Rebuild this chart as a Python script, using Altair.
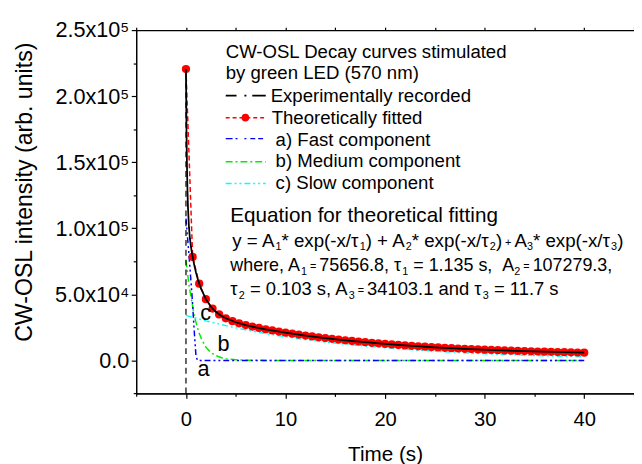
import altair as alt
import pandas as pd

# ---------------- data ----------------
# Theoretically fitted curve (red dots)
t_fit = [0, 0.67, 1.33, 2, 2.67, 3.33, 4, 4.67, 5.33, 6, 6.67, 7.33, 8, 8.67, 9.33,
         10, 10.67, 11.33, 12, 12.67, 13.33, 14, 14.67, 15.33, 16, 16.67, 17.33, 18,
         18.67, 19.33, 20, 20.67, 21.33, 22, 22.67, 23.33, 24, 24.67, 25.33, 26, 26.67,
         27.33, 28, 28.67, 29.33, 30, 30.67, 31.33, 32, 32.67, 33.33, 34, 34.67, 35.33,
         36, 36.67, 37.33, 38, 38.67, 39.33, 40]
fit_vals = [220540, 78330, 58070, 46330, 39270, 34820, 31850, 29720, 28090, 26740,
            25580, 24530, 23570, 22670, 21830, 21020, 20250, 19520, 18820, 18160,
            17520, 16910, 16330, 15770, 15240, 14730, 14240, 13770, 13330, 12900,
            12490, 12100, 11730, 11370, 11030, 10700, 10390, 10090, 9800, 9530,
            9270, 9010, 8780, 8550, 8330, 8120, 7920, 7720, 7540, 7370,
            7200, 7040, 6880, 6740, 6600, 6460, 6330, 6210, 6090, 5980, 5870]

# Experimentally recorded curve (black)
t_exp = [0, 0.05, 0.1, 0.15, 0.2, 0.3, 0.4, 0.5, 0.6, 0.8, 1.0, 1.2, 1.5, 2, 2.5, 3,
         3.5, 4, 5, 6, 7, 8, 10, 12, 14, 16, 18, 20, 22, 25, 28, 31, 34, 37, 40]
exp_vals = [220540, 175900, 147280, 128560, 115960, 100830, 92100, 86020, 81170,
            73270, 66760, 61260, 54530, 46330, 40730, 36800, 33970, 31850, 28860,
            26740, 25040, 23570, 21020, 18820, 16910, 15240, 13770, 12490, 11370,
            9940, 8770, 7820, 7040, 6400, 5870]

# a) fast component (blue)
t_fast = [0, 0.3, 0.6, 0.85, 1.0, 1.15, 40]
fast_vals = [107300, 80000, 50000, 20000, 4000, 0, 0]

# b) medium component (green)
t_med = [0, 0.3, 0.6, 0.8, 1.0, 1.3, 1.6, 2.0, 2.5, 3.0, 3.5, 4.0, 5.0, 6.0, 8, 40]
med_vals = [75700, 57000, 44000, 35000, 29000, 21000, 15500, 10000, 6000, 3600,
            2200, 1300, 500, 150, 0, 0]

# c) slow component (cyan)
t_slow = [0, 2, 4, 6, 8, 10, 12, 14, 16, 18, 20, 22, 24, 26, 28, 30, 32, 34, 36, 38, 40]
slow_vals = [34100, 29900, 26300, 23100, 20300, 17900, 15800, 13900, 12300, 10900,
             9600, 8500, 7500, 6600, 5800, 5100, 4500, 4000, 3500, 3100, 2800]

# vertical dashed trace at t = 0
rule_t = [0]
rule_lo = [-25000]
rule_hi = [220540]

x_major = [0, 10, 20, 30, 40]
x_minor = [-5, 5, 15, 25, 35, 45]
x_top = [-5, 0, 5, 10, 15, 20, 25, 30, 35, 40, 45]
y_major = [0, 50000, 100000, 150000, 200000, 250000]
y_minor = [-25000, 25000, 75000, 125000, 175000, 225000]

# ---------------- layout ----------------
FONT = "Liberation Sans"
PL, PT = 138.3, 26.7          # plot origin in page pixels
W, H = 506, 369.3

xs = alt.Scale(domain=[-5, 45], nice=False, zero=False)
ys = alt.Scale(domain=[-25000, 250000], nice=False, zero=False)

df_fit = pd.DataFrame({"t": t_fit, "v": fit_vals})
df_exp = pd.DataFrame({"t": t_exp, "v": exp_vals})
df_fast = pd.DataFrame({"t": t_fast, "v": fast_vals})
df_med = pd.DataFrame({"t": t_med, "v": med_vals})
df_slow = pd.DataFrame({"t": t_slow, "v": slow_vals})
df_rule = pd.DataFrame({"t": rule_t, "lo": rule_lo, "hi": rule_hi})

common_axis = dict(domainColor="black", tickColor="black", labelColor="black",
                   domainWidth=1.2, tickWidth=1.2, grid=False, labelFont=FONT,
                   titleFont=FONT, titleColor="black", titleFontWeight="normal")

def axis_layer(xaxis, yaxis):
    return alt.Chart(df_slow).mark_line(opacity=0).encode(
        x=alt.X("t:Q", scale=xs, axis=xaxis),
        y=alt.Y("v:Q", scale=ys, axis=yaxis),
    )

ylab = ("datum.value == 0 ? '0.0' : (datum.value < 100000 ? "
        "format(datum.value/10000, '.1f') + 'x10\u2074' : "
        "format(datum.value/100000, '.1f') + 'x10\u2075')")

ax_major = axis_layer(
    alt.Axis(orient="bottom", values=x_major, format="d", tickSize=5,
             labelFontSize=20.5, labelPadding=11.5, title="Time (s)",
             titleFontSize=21, titleBaseline="alphabetic", titleY=68, **common_axis),
    alt.Axis(orient="left", values=y_major, labelExpr=ylab, tickSize=5,
             labelFontSize=22, labelPadding=2.5, title="CW-OSL intensity (arb. units)",
             titleFontSize=23.5, titleAngle=270, titleX=-106.6, titleY=164.3,
             titleBaseline="alphabetic", titleAlign="center", **common_axis),
)
ax_minor = axis_layer(
    alt.Axis(orient="bottom", values=x_minor, labels=False, tickSize=3, title=None,
             **common_axis),
    alt.Axis(orient="left", values=y_minor, labels=False, tickSize=3, title=None,
             **common_axis),
)
ax_top = axis_layer(
    alt.Axis(orient="top", values=x_top, labels=False, tickSize=3, title=None,
             **common_axis),
    None,
)

def curve(df, color, dash=None, width=1.5):
    kw = dict(color=color, strokeWidth=width, clip=True)
    if dash:
        kw["strokeDash"] = dash
    return alt.Chart(df).mark_line(**kw).encode(
        x=alt.X("t:Q", scale=xs, axis=None),
        y=alt.Y("v:Q", scale=ys, axis=None),
    )

slow_line = curve(df_slow, "#00ffff", [6, 3, 2, 3, 2, 3])
med_line = curve(df_med, "#00ee00", [7, 3, 2, 3])
fast_line = curve(df_fast, "#0000ff", [6, 3, 2, 3, 2, 3])
rule0 = alt.Chart(df_rule).mark_rule(color="black", strokeDash=[6, 4], strokeWidth=1.2).encode(
    x=alt.X("t:Q", scale=xs, axis=None),
    y=alt.Y("lo:Q", scale=ys, axis=None),
    y2="hi:Q",
)
fit_line = curve(df_fit, "#ff0000", [5, 3])
fit_pts = alt.Chart(df_fit).mark_point(filled=True, color="#ff0000", size=70, opacity=1).encode(
    x=alt.X("t:Q", scale=xs, axis=None),
    y=alt.Y("v:Q", scale=ys, axis=None),
)
exp_line = curve(df_exp, "black", None, 1.8)

# ---------------- annotations (legend, equation, curve labels) ----------------
text_rows = [
    (229.3, 55.0, "CW-OSL Decay curves stimulated", 18.9),
    (229.3, 76.7, "by green LED (570 nm)", 18.9),
    (275.0, 100.0, "Experimentally recorded", 18.9),
    (276.0, 121.7, "Theoretically fitted", 18.9),
    (280.0, 144.0, "a) Fast component", 18.9),
    (280.0, 165.7, "b) Medium component", 18.9),
    (280.0, 188.3, "c) Slow component", 18.9),
    (234.0, 221.7, "Equation for theoretical fitting", 21),
    (200.7, 378.5, "a", 22),
    (221.0, 352.5, "b", 22),
    (203.5, 321.7, "c", 22),
]

# equation lines: segments of (text, kind); n = normal, s = subscript, m = small symbol
EQ_SUB, SUB_DY = 11.0, 4.0
eq_lines = [
    (236.0, 246.7, 19.0,
     [("y = A", "n"), ("1", "s"), ("* exp(-x/\u03c4", "n"), ("1", "s"),
      (") + A", "n"), ("2", "s"), ("* exp(-x/\u03c4", "n"), ("2", "s"),
      (")", "n"), (" + ", "m"), ("A", "n"), ("3", "s"),
      ("* exp(-x/\u03c4", "n"), ("3", "s"), (")", "n")]),
    (234.0, 271.7, 18.2,
     [("where, A", "n"), ("1", "s"), (" = ", "m"), ("75656.8, \u03c4", "n"),
      ("1", "s"), (" = 1.135 s,", "n"), ("  A", "n"), ("2", "s"), (" = ", "m"),
      ("107279.3,", "n")]),
    (234.0, 296.0, 18.7,
     [("\u03c4", "n"), ("2", "s"), (" = 0.103 s, A", "n"), ("3", "s"),
      (" = ", "m"), ("34103.1 and \u03c4", "n"), ("3", "s"),
      (" = 11.7 s", "n")]),
]
# Arial / Liberation Sans advance widths (em) used to place the segments
ADV = {" ": .278, "(": .333, ")": .333, "*": .389, "+": .584, ",": .278, "-": .333,
       ".": .278, "/": .278, "=": .584, "A": .667, "a": .556, "d": .556, "e": .556,
       "h": .556, "n": .556, "p": .556, "r": .333, "s": .5, "w": .722, "x": .5,
       "y": .5, "\u03c4": .46}
def adv(s):
    return sum(ADV.get(ch, .556) for ch in s)

for x0, yb, main, segs in eq_lines:
    cx = x0
    for txt, kind in segs:
        size = main if kind == "n" else EQ_SUB
        dy = SUB_DY if kind == "s" else (-1.0 if kind == "m" else 0.0)
        lead = len(txt) - len(txt.lstrip(" "))
        text_rows.append((cx + lead * ADV[" "] * size, yb + dy, txt.strip(), size))
        cx += adv(txt) * size

ann = pd.DataFrame(text_rows, columns=["px", "py", "txt", "fs"])
ann["px"] = ann["px"] - PL
ann["py"] = ann["py"] - PT
texts = alt.Chart(ann).mark_text(align="left", baseline="alphabetic", font=FONT,
                                 color="black").encode(
    x=alt.X("px:Q", scale=None, axis=None),
    y=alt.Y("py:Q", scale=None, axis=None),
    text="txt:N",
    size=alt.Size("fs:Q", scale=None, legend=None),
)

one = pd.DataFrame({"k": [0]})

def sample(y, color, dash, width=1.5):
    kw = dict(color=color, strokeWidth=width)
    if dash:
        kw["strokeDash"] = dash
    return alt.Chart(one).mark_rule(**kw).encode(
        x=alt.value(229.3 - PL), x2=alt.value(270.0 - PL), y=alt.value(y - PT))

samples = [
    sample(93.3, "black", [11, 8, 2, 6, 14], 1.6),
    sample(115.7, "#ff0000", [4, 3]),
    sample(137.0, "#0000ff", [7, 3, 2, 7, 2, 4, 5, 3, 5]),
    sample(160.5, "#00ee00", [7, 3, 2, 3]),
    sample(182.7, "#00ffff", [6, 3, 2, 3, 2, 3]),
]
sample_dot = alt.Chart(one).mark_point(filled=True, color="#ff0000", size=60, opacity=1).encode(
    x=alt.value(249.3 - PL), y=alt.value(115.7 - PT))

chart = alt.layer(
    ax_major, ax_minor, ax_top,
    slow_line, med_line, fast_line, rule0, fit_line, fit_pts, exp_line,
    texts, *samples, sample_dot,
).resolve_axis(
    x="independent", y="independent"
).properties(
    width=W, height=H,
    padding={"left": 130.3, "top": 18.7, "right": 0, "bottom": 70},
    autosize=alt.AutoSizeParams(type="none"),
    background="white",
).configure_view(strokeWidth=0)

chart.save("out.html", embed_options={"renderer": "svg", "actions": False})
